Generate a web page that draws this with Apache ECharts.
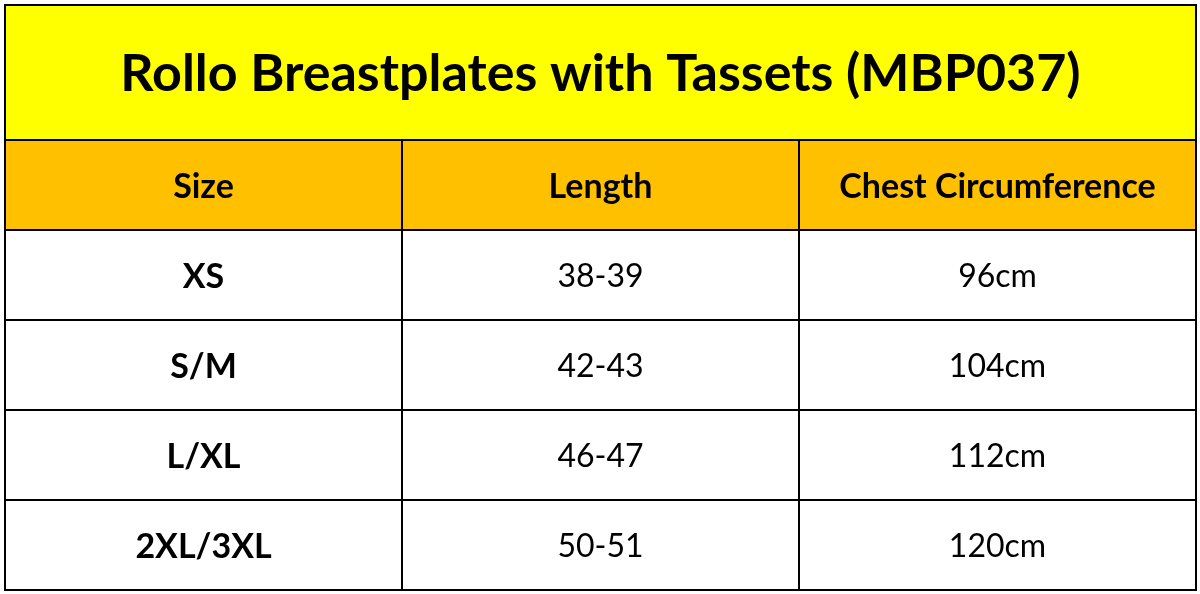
<!DOCTYPE html>
<html>
<head>
<meta charset="utf-8">
<script src="https://cdn.jsdelivr.net/npm/echarts@6/dist/echarts.min.js"></script>
<style>html,body{margin:0;padding:0;background:#fff}#main{width:1200px;height:594px}</style>
</head>
<body>
<div id="main"></div>
<script>
const title = 'Rollo Breastplates with Tassets (MBP037)';
const headers = ['Size', 'Length', 'Chest Circumference'];
const sizes = ['XS', 'S/M', 'L/XL', '2XL/3XL'];
const lengths = ['38-39', '42-43', '46-47', '50-51'];
const chest = ['96cm', '104cm', '112cm', '120cm'];

// cells: [colStart, colEnd, rowStart, rowEnd, text, kind]
let cells = [[0, 3, 0, 1.5, title, 'title']];
headers.forEach((h, i) => cells.push([i, i + 1, 1.5, 2.5, h, 'head']));
sizes.forEach((s, r) => {
    let y = 2.5 + r;
    cells.push([0, 1, y, y + 1, s, 'size']);
    cells.push([1, 2, y, y + 1, lengths[r], 'body']);
    cells.push([2, 3, y, y + 1, chest[r], 'body']);
});

const fills = {title: '#FFFF00', head: '#FFC000', size: '#FFFFFF', body: '#FFFFFF'};
const fonts = {
    title: 'bold 52px Lato, "Open Sans", sans-serif',
    head: 'bold 34px Lato, "Open Sans", sans-serif',
    size: 'bold 34px Lato, "Open Sans", sans-serif',
    body: '32px Lato, "Open Sans", sans-serif'
};

let chart = echarts.init(document.getElementById('main'));
chart.setOption({
    animation: false,
    grid: {left: 5, right: 4, top: 5, bottom: 4},
    xAxis: {type: 'value', min: 0, max: 3, show: false},
    yAxis: {type: 'value', min: 0, max: 6.5, inverse: true, show: false},
    series: [{
        type: 'custom',
        data: cells,
        renderItem: function(params, api) {
            let p0 = api.coord([api.value(0), api.value(2)]);
            let p1 = api.coord([api.value(1), api.value(3)]);
            let d = cells[params.dataIndex];
            return {
                type: 'group',
                children: [{
                    type: 'rect',
                    shape: {x: p0[0], y: p0[1], width: p1[0] - p0[0], height: p1[1] - p0[1]},
                    style: {fill: fills[d[5]], stroke: '#000', lineWidth: 2}
                }, {
                    type: 'text',
                    style: {
                        text: d[4], x: (p0[0] + p1[0]) / 2, y: (p0[1] + p1[1]) / 2 + 2,
                        align: 'center', verticalAlign: 'middle', font: fonts[d[5]], fill: '#000'
                    }
                }]
            };
        }
    }]
});
</script>
</body>
</html>
